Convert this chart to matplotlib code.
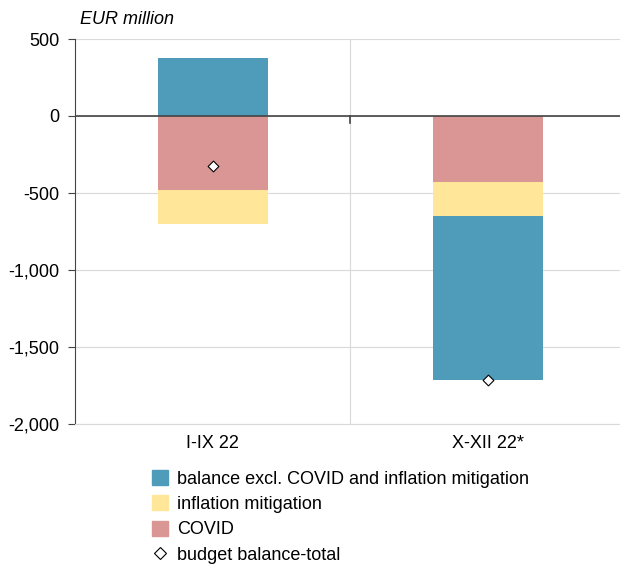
import matplotlib
matplotlib.use('Agg')
import matplotlib.pyplot as plt
from matplotlib.lines import Line2D
from matplotlib.patches import Patch
import numpy as np

plt.rcParams['font.family'] = ['Liberation Sans', 'DejaVu Sans']

kategorie = ['I-IX 22', 'X-XII 22*']
bilans_bez = [375, -1065]
inflacja = [-220, -220]
covid = [-480, -430]
bilans_calk = [-325, -1715]

c_blue = '#4f9bba'
c_yellow = '#ffe699'
c_pink = '#d99694'

fig = plt.figure(figsize=(6.2, 5.66), dpi=100)
ax = fig.add_axes([75 / 620, 1 - 424 / 566, 545 / 620, 385 / 566])

x = np.arange(len(kategorie))
w = 0.4
cov = np.array(covid)
inf = np.array(inflacja)
bal = np.array(bilans_bez)
# ujemne skladniki ukladane od zera w dol, dodatnie w gore
neg_base = np.zeros(len(x))
ax.bar(x, cov, w, bottom=neg_base, color=c_pink, zorder=2)
neg_base = neg_base + cov
ax.bar(x, inf, w, bottom=neg_base, color=c_yellow, zorder=2)
neg_base = neg_base + inf
bal_bottom = np.where(bal > 0, 0, neg_base)
ax.bar(x, bal, w, bottom=bal_bottom, color=c_blue, zorder=2)
ax.scatter(x, bilans_calk, marker='D', s=30, facecolor='white', edgecolor='black',
           linewidth=0.8, zorder=4)

ax.set_ylim(-2000, 500)
ax.set_xlim(-0.5, 1.48)
ax.set_yticks(np.arange(-2000, 501, 500))
ax.set_yticklabels([f'{v:,}' for v in range(-2000, 501, 500)], fontsize=13)
ax.set_xticks(x)
ax.set_xticklabels(kategorie, fontsize=13)
ax.tick_params(axis='x', length=0, pad=8)
ax.tick_params(axis='y', length=5, width=0.8, direction='out', color='#444444', pad=6)

ax.grid(axis='y', color='#d9d9d9', linewidth=0.8, zorder=0)
ax.axvline(0.5, color='#d9d9d9', linewidth=0.8, zorder=0)
ax.axhline(0, color='#444444', linewidth=1.2, zorder=3)
ax.plot([0.5, 0.5], [0, -45], color='#444444', linewidth=1.2, zorder=3)

for s in ['top', 'right']:
    ax.spines[s].set_visible(False)
ax.spines['bottom'].set_color('#d9d9d9')
ax.spines['bottom'].set_linewidth(0.8)
ax.spines['left'].set_color('#444444')
ax.spines['left'].set_linewidth(0.8)

fig.text(80 / 620, 1 - 20 / 566, 'EUR million', fontsize=13, style='italic', va='center')

handles = [Patch(color=c_blue), Patch(color=c_yellow), Patch(color=c_pink),
           Line2D([], [], marker='D', linestyle='none', markersize=6,
                  markerfacecolor='white', markeredgecolor='black', markeredgewidth=0.8)]
labels = ['balance excl. COVID and inflation mitigation', 'inflation mitigation', 'COVID',
          'budget balance-total']
fig.legend(handles, labels, loc='upper left', bbox_to_anchor=(143 / 620, 1 - 461 / 566),
           frameon=False, fontsize=13, handlelength=0.9, handleheight=0.9,
           handletextpad=0.5, labelspacing=0.42, borderpad=0)

fig.savefig('out.png', dpi=100)
